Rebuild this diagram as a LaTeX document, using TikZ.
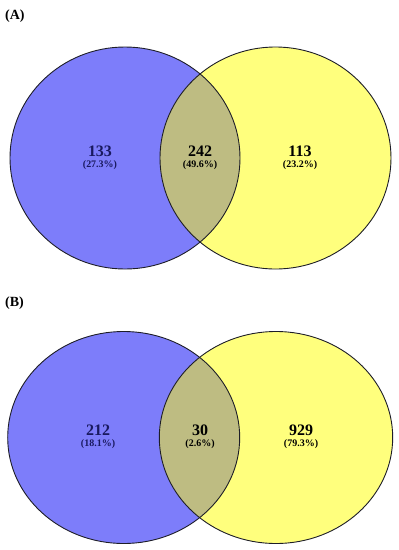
\documentclass[tikz,border=0pt]{standalone}
\usepackage{fontspec}
\setmainfont{Liberation Serif}
\definecolor{vblue}{RGB}{125,125,250}
\definecolor{vyellow}{RGB}{255,255,125}
\definecolor{volive}{RGB}{190,188,130}
\definecolor{vnavy}{RGB}{25,25,95}
\definecolor{vline}{RGB}{30,30,40}
\begin{document}
\begin{tikzpicture}[x=1pt,y=-1pt,
  outline/.style={draw=vline,line width=0.9pt},
  num/.style={font=\bfseries\fontsize{16}{16}\selectfont,inner sep=0pt},
  pct/.style={font=\bfseries\fontsize{10}{10}\selectfont,inner sep=0pt},
  panel/.style={font=\bfseries\fontsize{14}{14}\selectfont,inner sep=0pt,anchor=west}]
\useasboundingbox[fill=white] (0,0) rectangle (399,550);
% ---- Panel A ----
\node[panel] (labA) at (5,16) {(A)};
\fill[vblue] (125,158) ellipse [x radius=115pt, y radius=111pt];
\fill[vyellow] (275.5,158) ellipse [x radius=115.5pt, y radius=111pt];
\begin{scope}
\clip (125,158) ellipse [x radius=115pt, y radius=111pt];
\fill[volive] (275.5,158) ellipse [x radius=115.5pt, y radius=111pt];
\end{scope}
\draw[outline] (125,158) ellipse [x radius=115pt, y radius=111pt];
\draw[outline] (275.5,158) ellipse [x radius=115.5pt, y radius=111pt];
\node[num,text=vnavy] (a1) at (100,151.5) {133};
\node[pct,text=vnavy] (a1p) at (100,165) {(27.3\%)};
\node[num] (a2) at (200,151.5) {242};
\node[pct] (a2p) at (200,165) {(49.6\%)};
\node[num] (a3) at (300,151.5) {113};
\node[pct] (a3p) at (300,165) {(23.2\%)};
% ---- Panel B ----
\node[panel] (labB) at (5,303) {(B)};
\fill[vblue] (123.7,437.5) ellipse [x radius=116pt, y radius=106pt];
\fill[vyellow] (276,437.5) ellipse [x radius=116.7pt, y radius=106pt];
\begin{scope}
\clip (123.7,437.5) ellipse [x radius=116pt, y radius=106pt];
\fill[volive] (276,437.5) ellipse [x radius=116.7pt, y radius=106pt];
\end{scope}
\draw[outline] (123.7,437.5) ellipse [x radius=116pt, y radius=106pt];
\draw[outline] (276,437.5) ellipse [x radius=116.7pt, y radius=106pt];
\node[num,text=vnavy] (b1) at (98,430.5) {212};
\node[pct,text=vnavy] (b1p) at (98,444) {(18.1\%)};
\node[num] (b2) at (200,430.5) {30};
\node[pct] (b2p) at (200,444) {(2.6\%)};
\node[num] (b3) at (301,430.5) {929};
\node[pct] (b3p) at (301,444) {(79.3\%)};
\end{tikzpicture}
\end{document}
